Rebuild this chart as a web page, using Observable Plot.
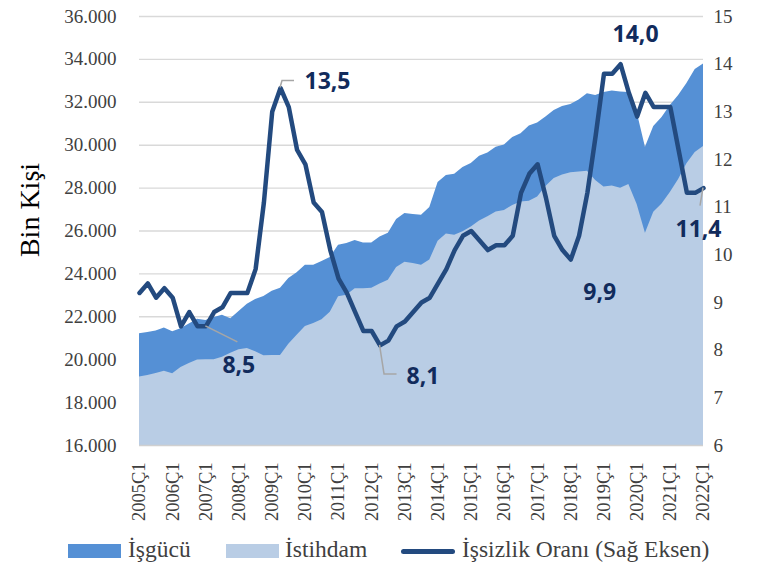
<!DOCTYPE html>
<html>
<head>
<meta charset="utf-8">
<script src="https://cdn.jsdelivr.net/npm/d3@7"></script>
<script src="https://cdn.jsdelivr.net/npm/@observablehq/plot@0.6"></script>
<style>
  html, body { margin: 0; padding: 0; background: #fff; }
  #wrap { position: relative; width: 769px; height: 569px; overflow: hidden; }
  .leg { position: absolute; font-family: "Times New Roman", "Liberation Serif", serif; font-size: 23.5px; color: #404040; white-space: nowrap; line-height: 1; }
  .sw { position: absolute; }
</style>
</head>
<body>
<div id="wrap"></div>
<script>
// ---- data ----
const years = [2005, 2006, 2007, 2008, 2009, 2010, 2011, 2012, 2013, 2014, 2015, 2016, 2017, 2018, 2019, 2020, 2021, 2022];
const quarters = years.flatMap(y => [1, 2, 3, 4].map(q => `${y}Ç${q}`)).slice(0, 69);
const yearTicks = years.map(y => `${y}Ç1`);

// İşgücü (bin kişi)
const labor = [21210, 21270, 21340, 21480, 21300, 21440, 21670, 21880, 21830, 21970, 22070, 21910,
  22250, 22580, 22810, 22950, 23190, 23330, 23790, 24050, 24400, 24400, 24580, 24770,
  25330, 25420, 25560, 25440, 25440, 25720, 25890, 26540, 26820, 26770, 26730, 27100,
  28260, 28590, 28640, 28960, 29150, 29480, 29640, 29900, 30010, 30360, 30530, 30900,
  31040, 31320, 31620, 31810, 31900, 32110, 32400, 32320, 32460, 32530, 32480, 32460,
  31530, 29910, 30870, 31290, 31850, 32320, 32880, 33530, 33790];
// İstihdam (bin kişi)
const employment = [19190, 19260, 19360, 19460, 19350, 19640, 19820, 19990, 20000, 20000, 20110, 20300,
  20460, 20520, 20370, 20180, 20200, 20200, 20720, 21140, 21550, 21690, 21860, 22210,
  22930, 23000, 23310, 23310, 23330, 23530, 23700, 24300, 24540, 24490, 24400, 24650,
  25520, 25860, 25800, 25960, 26190, 26470, 26660, 26890, 26960, 27190, 27350, 27390,
  27590, 28080, 28450, 28610, 28710, 28750, 28790, 28360, 28050, 28100, 27990, 28170,
  27240, 25890, 26870, 27260, 27800, 28400, 29130, 29660, 29940];
// İşsizlik Oranı (%)
const unemployment = [9.2, 9.4, 9.1, 9.3, 9.1, 8.5, 8.8, 8.5, 8.5, 8.8, 8.9, 9.2,
  9.2, 9.2, 9.7, 11.1, 13.0, 13.5, 13.1, 12.2, 11.9, 11.1, 10.9, 10.1,
  9.5, 9.2, 8.8, 8.4, 8.4, 8.1, 8.2, 8.5, 8.6, 8.8, 9.0, 9.1,
  9.4, 9.7, 10.1, 10.4, 10.5, 10.3, 10.1, 10.2, 10.2, 10.4, 11.3, 11.7,
  11.9, 11.2, 10.4, 10.1, 9.9, 10.4, 11.3, 12.5, 13.8, 13.8, 14.0, 13.4,
  12.9, 13.4, 13.1, 13.1, 13.1, 12.2, 11.3, 11.3, 11.4];

const leftTicks = [16000, 18000, 20000, 22000, 24000, 26000, 28000, 30000, 32000, 34000, 36000];
const rightTicks = [6, 7, 8, 9, 10, 11, 12, 13, 14, 15];

// labelled points of the unemployment line
const labelQuarters = ["2009Ç2", "2019Ç3", "2018Ç1", "2007Ç1", "2012Ç2", "2022Ç1"];

// ---- styling ----
const labelStyle = {
  "2009Ç2": {dx: 47, dy: -6, leader: [[0, 0], [2, -7], [14, -7]]},
  "2019Ç3": {dx: 15, dy: -30, leader: null},
  "2018Ç1": {dx: 29, dy: 33, leader: null},
  "2007Ç1": {dx: 33, dy: 39, leader: [[0, 0], [32, 16]]},
  "2012Ç2": {dx: 43, dy: 31, leader: [[0, 0], [4.5, 29], [17, 29]]},
  "2022Ç1": {dx: -5, dy: 42, leader: [[0, 0], [-3, 18]]}
};
const C_LABOR = "#5590d5", C_EMP = "#b9cde5", C_LINE = "#234a7f", C_LBL = "#112b5c";
const SERIF_CSS = '"Times New Roman", "Liberation Serif", serif';
const SANS_CSS = '"Open Sans", "Liberation Sans", sans-serif';

const yMin = leftTicks[0], yMax = leftTicks[leftTicks.length - 1];
const rMin = rightTicks[0], rMax = rightTicks[rightTicks.length - 1];
const toLeft = v => yMin + (v - rMin) * (yMax - yMin) / (rMax - rMin);
const fromLeft = v => rMin + (v - yMin) * (rMax - rMin) / (yMax - yMin);

const data = quarters.map((q, i) => ({q, labor: labor[i], emp: employment[i], u: unemployment[i]}));
const fmtLeft = d => d3.format(",")(d).replace(/,/g, ".");
const fmtComma = v => v.toFixed(1).replace(".", ",");

const labelMarks = labelQuarters.map(q => {
  const d = data.find(e => e.q === q);
  const s = labelStyle[q];
  return Plot.text([d], {
    x: "q", y: e => toLeft(e.u), text: e => fmtComma(e.u),
    dx: s.dx, dy: s.dy, fill: C_LBL, fontWeight: "bold", fontSize: 23, textAnchor: "middle"
  });
});
const labelTexts = new Set(labelQuarters.map(q => fmtComma(data.find(e => e.q === q).u)));

function leaderMark(index, scales) {
  const g = d3.create("svg:g");
  for (const q of labelQuarters) {
    const s = labelStyle[q];
    if (!s.leader) continue;
    const d = data.find(e => e.q === q);
    const px = scales.x(d.q), py = scales.y(toLeft(d.u));
    g.append("polyline")
      .attr("points", s.leader.map(([a, b]) => `${px + a},${py + b}`).join(" "))
      .attr("fill", "none").attr("stroke", "#a6a6a6").attr("stroke-width", 1.5);
  }
  return g.node();
}

const chart = Plot.plot({
  width: 769,
  height: 527,
  marginLeft: 139,
  marginRight: 66,
  marginTop: 16,
  marginBottom: 82,
  style: {fontSize: "19px", color: "#404040", background: "white", overflow: "visible"},
  x: {type: "point", domain: quarters, padding: 0, round: false, axis: null},
  y: {domain: [yMin, yMax], axis: null},
  marks: [
    Plot.ruleY(leftTicks.slice(1), {stroke: "#d9d9d9", strokeWidth: 1.4}),
    Plot.areaY(data, {x: "q", y1: yMin, y2: "labor", fill: C_LABOR}),
    Plot.areaY(data, {x: "q", y1: yMin, y2: "emp", fill: C_EMP}),
    Plot.ruleY([yMin], {stroke: "#d0d0d0", strokeWidth: 1.4}),
    Plot.line(data, {x: "q", y: d => toLeft(d.u), stroke: C_LINE, strokeWidth: 4.5, strokeLinejoin: "round"}),
    leaderMark,
    ...labelMarks,
    Plot.axisY(leftTicks, {anchor: "left", tickSize: 0, tickPadding: 23, tickFormat: fmtLeft, label: null, fontSize: 19, fill: "#404040"}),
    Plot.axisY(rightTicks.map(toLeft), {anchor: "right", tickSize: 0, tickPadding: 10, tickFormat: d => String(Math.round(fromLeft(d))), label: null, textAnchor: "start", fontSize: 19, fill: "#404040"}),
    Plot.axisX(yearTicks, {anchor: "bottom", tickSize: 0, tickPadding: 17, tickRotate: -90, label: null, fontSize: 18.5, fill: "#404040"}),
    Plot.text(["Bin Kişi"], {frameAnchor: "left", rotate: -90, dx: -109, dy: -21, fontSize: 28, fill: "#000", textAnchor: "middle"})
  ]
});

// font families: serif for axes/titles, bold sans for the data labels
d3.select(chart).selectAll("text").each(function () {
  const isLabel = labelTexts.has(this.textContent);
  this.style.fontFamily = isLabel ? SANS_CSS : SERIF_CSS;
  this.style.fontVariantNumeric = "normal";
});

const wrap = document.getElementById("wrap");
wrap.appendChild(chart);

// legend
const legend = [
  {type: "rect", color: C_LABOR, label: "İşgücü", sx: 68, tx: 128},
  {type: "rect", color: C_EMP, label: "İstihdam", sx: 226, tx: 285},
  {type: "line", color: C_LINE, label: "İşsizlik Oranı (Sağ Eksen)", sx: 401, tx: 462}
];
for (const it of legend) {
  const sw = document.createElement("div");
  sw.className = "sw";
  if (it.type === "rect") {
    Object.assign(sw.style, {left: it.sx + "px", top: "544px", width: "53px", height: "14px", background: it.color});
  } else {
    Object.assign(sw.style, {left: it.sx + "px", top: "549px", width: "54px", height: "5px", background: it.color, borderRadius: "3px"});
  }
  wrap.appendChild(sw);
  const t = document.createElement("div");
  t.className = "leg";
  t.textContent = it.label;
  Object.assign(t.style, {left: it.tx + "px", top: "538px"});
  wrap.appendChild(t);
}
</script>
</body>
</html>
